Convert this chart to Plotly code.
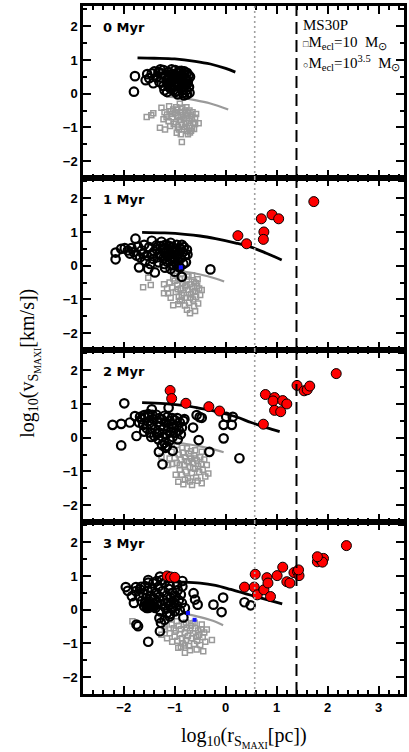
import plotly.graph_objects as go
from plotly.subplots import make_subplots

# ---------------- data ----------------
panel_labels = ["0 Myr", "1 Myr", "2 Myr", "3 Myr"]

# black open circles (Mecl = 10^3.5 Msun)
circ_0 = [(-1.80,0.06),(-1.78,0.52),(-1.57,0.40),(-1.54,0.58),(-1.45,0.60),(-1.42,0.31),(-1.50,0.46),(-1.32,0.64),(-1.36,0.48),(-1.26,0.47),(-1.22,0.23),(-1.30,0.35),(-1.22,0.70),(-1.18,0.55),(-1.16,0.40),(-1.14,0.28),(-1.12,0.64),(-1.10,0.50),(-1.08,0.15),(-1.06,0.72),(-1.05,0.36),(-1.03,0.58),(-1.00,0.25),(-0.99,0.70),(-0.97,0.45),(-0.95,0.08),(-0.94,0.62),(-0.92,0.32),(-0.90,0.52),(-0.88,0.18),(-0.87,0.68),(-0.85,0.40),(-0.84,0.02),(-0.82,0.58),(-0.80,0.27),(-0.79,0.48),(-0.77,0.10),(-0.76,0.62),(-0.74,0.38),(-0.72,0.20),(-0.71,0.03),(-0.70,0.50),(-1.20,0.10),(-1.15,0.05),(-1.13,0.44),(-1.09,0.33),(-1.07,0.58),(-1.02,0.12),(-0.98,0.53),(-0.93,0.22),(-0.91,0.67),(-0.89,0.42),(-0.86,0.30),(-0.83,0.12),(-0.81,0.66),(-0.78,0.40),(-0.75,0.30),(-0.73,0.55),(-1.25,0.60),(-1.04,0.47),(-0.96,0.35),(-0.86,0.55),(-0.82,-0.05),(-0.76,-0.02),(-1.11,0.22),(-0.99,0.05),(-0.94,-0.02),(-1.28,0.72),(-1.40,0.66)]
circ_1 = [(-2.16,0.19),(-2.16,0.39),(-2.05,0.50),(-1.98,0.52),(-1.92,0.45),(-1.85,0.52),(-1.77,0.80),(-1.72,0.56),(-1.88,0.36),(-1.80,0.40),(-1.65,0.45),(-1.60,0.62),(-1.55,0.30),(-1.50,0.55),(-1.45,0.74),(-1.42,0.20),(-1.40,0.42),(-1.36,0.60),(-1.32,0.10),(-1.30,0.35),(-1.26,0.71),(-1.24,0.50),(-1.22,0.22),(-1.20,0.05),(-1.18,0.40),(-1.16,0.62),(-1.14,0.28),(-1.12,0.48),(-1.10,0.15),(-1.08,0.68),(-1.06,0.35),(-1.04,0.55),(-1.02,0.02),(-1.00,0.25),(-0.98,0.45),(-0.96,0.62),(-0.94,0.12),(-0.92,0.35),(-0.90,0.52),(-0.88,0.22),(-0.86,0.62),(-0.84,0.40),(-0.83,0.05),(-0.80,0.30),(-0.78,0.10),(-0.76,0.47),(-0.75,0.33),(-1.70,-0.05),(-1.52,-0.10),(-1.39,-0.20),(-1.19,-0.06),(-1.00,-0.18),(-0.86,-0.33),(-0.30,-0.11),(-1.58,0.15),(-1.48,0.05),(-1.35,0.48),(-1.28,0.58),(-1.15,0.12),(-1.10,0.58),(-1.05,0.20),(-0.97,0.05),(-0.92,-0.02),(-1.62,0.35),(-1.44,0.35),(-1.34,0.25),(-1.26,0.30),(-1.21,0.60),(-1.12,0.32),(-1.02,0.42),(-0.95,0.30),(-0.88,0.48),(-1.68,0.25),(-1.75,0.30),(-0.82,0.55),(-1.08,-0.10),(-0.90,-0.05)]
circ_2 = [(-2.05,0.41),(-1.88,0.45),(-1.78,0.64),(-1.60,0.67),(-1.75,0.05),(-1.45,0.84),(-1.12,0.89),(-1.05,0.58),(-0.83,0.50),(-0.57,0.67),(-0.51,0.61),(-0.64,0.30),(-0.53,-0.07),(-0.32,-0.42),(-0.04,0.38),(-0.04,-0.02),(0.01,0.62),(0.12,0.38),(0.14,0.62),(0.27,-0.61),(-1.24,-0.79),(-1.04,-0.39),(-1.31,-0.42),(-2.05,-0.23),(-2.22,0.38),(-1.99,1.02),(-0.81,0.55),(-0.47,0.59),
          (-1.70,0.45),(-1.65,0.55),(-1.62,0.38),(-1.58,0.60),(-1.55,0.28),(-1.52,0.48),(-1.50,0.65),(-1.48,0.15),(-1.45,0.38),(-1.42,0.55),(-1.40,0.05),(-1.38,0.25),(-1.36,0.68),(-1.34,0.45),(-1.32,-0.05),(-1.30,0.15),(-1.28,0.35),(-1.26,0.55),(-1.24,0.02),(-1.22,0.25),(-1.20,-0.15),(-1.18,0.45),(-1.16,0.10),(-1.14,0.62),(-1.12,0.30),(-1.10,-0.08),(-1.08,0.18),(-1.06,0.40),(-1.04,0.02),(-1.02,0.30),(-1.00,0.52),(-0.98,0.15),(-0.96,0.35),(-0.94,-0.05),(-0.92,0.22),(-0.90,0.45),(-0.88,0.10),(-0.86,0.30),(-1.60,0.18),(-1.46,0.02),(-1.35,0.12),(-1.25,-0.22),(-1.15,-0.25),(-1.18,-0.30),(-1.30,0.58),(-1.20,0.65),(-1.44,0.68),(-1.68,0.62),(-1.52,0.70),(-1.10,0.50),(-0.95,0.58)]
circ_3 = [(-1.96,0.67),(-1.92,0.56),(-1.76,0.67),(-1.66,0.68),(-1.52,0.88),(-1.52,0.80),(-1.29,0.98),(-1.80,0.20),(-1.75,-0.44),(-1.72,-0.49),(-1.52,-0.95),(-1.29,-0.64),(-1.27,-0.39),(-1.09,-0.13),(-1.08,0.16),(-0.83,-0.23),(-0.80,0.05),(-0.85,0.69),(-0.63,0.49),(-0.60,0.30),(-0.55,0.15),(-0.24,0.15),(-0.05,0.36),(-0.08,-0.07),(0.37,0.22),(0.49,0.13),
          (-1.70,0.40),(-1.68,0.60),(-1.65,0.25),(-1.62,0.48),(-1.60,0.10),(-1.58,0.70),(-1.56,0.35),(-1.55,0.05),(-1.53,0.55),(-1.52,0.15),(-1.50,0.25),(-1.48,0.08),(-1.47,0.42),(-1.45,0.62),(-1.43,0.18),(-1.42,0.78),(-1.40,0.32),(-1.38,0.05),(-1.36,0.50),(-1.34,0.22),(-1.32,0.68),(-1.30,0.38),(-1.28,-0.05),(-1.26,0.15),(-1.24,0.55),(-1.22,0.28),(-1.20,0.80),(-1.18,0.05),(-1.16,0.42),(-1.14,0.20),(-1.12,0.62),(-1.10,-0.20),(-1.08,0.35),(-1.06,0.05),(-1.04,0.50),(-1.02,0.22),(-1.00,-0.05),(-0.98,0.40),(-0.96,0.12),(-0.94,0.58),(-0.92,0.28),(-0.90,-0.02),(-0.88,0.45),(-0.86,0.20),(-1.55,0.12),(-1.50,0.12),(-1.45,0.08),(-1.52,0.05),(-1.47,0.15),(-1.58,0.20),(-1.40,0.10),(-1.30,-0.25),(-1.20,-0.30),(-1.15,-0.10),(-0.95,0.75),(-1.10,0.72),(-0.85,0.85),(-1.35,0.85),(-1.25,0.88),(-1.84,0.40),(-1.76,0.55)]

# grey open squares (Mecl = 10 Msun)
sq_0 = [(-1.55,-0.69),(-1.46,-0.64),(-1.42,-0.58),(-1.26,-0.42),(-1.11,-0.37),(-0.90,-0.30),(-1.03,-0.47),(-1.22,-0.76),(-1.29,-1.01),(-1.19,-1.06),(-1.09,-0.96),(-0.86,-1.43),(-0.96,-1.16),(-0.92,-1.06),(-0.76,-1.11),(-0.66,-1.01),(-0.53,-0.88),(-0.60,-0.71),(-1.20,-0.55),(-1.15,-0.62),(-1.08,-0.52),(-1.05,-0.70),(-1.00,-0.58),(-0.98,-0.85),(-0.95,-0.48),(-0.93,-0.66),(-0.90,-0.78),(-0.88,-0.55),(-0.86,-0.92),(-0.84,-0.63),(-0.82,-0.75),(-0.80,-0.50),(-0.78,-0.88),(-0.76,-0.68),(-0.74,-0.58),(-0.72,-0.80),(-0.70,-0.95),(-0.68,-0.65),(-0.66,-0.75),(-0.64,-0.86),(-0.62,-1.05),(-0.70,-1.15),(-0.82,-1.05),(-0.88,-1.20),(-1.02,-0.90),(-1.12,-0.82),(-1.16,-0.70),(-0.97,-0.40),(-0.85,-0.42),(-0.77,-0.40),(-0.60,-0.90),(-0.58,-0.60),(-0.80,-0.98),(-0.94,-0.98),(-0.68,-1.10),(-0.74,-1.20),(-0.87,-0.70),(-0.79,-0.62),(-0.71,-0.50),(-0.65,-0.55),(-1.06,-0.60)]
sq_1 = [(-1.52,-0.36),(-1.47,-0.57),(-1.62,-0.64),(-1.21,-0.55),(-1.21,-0.82),(-1.13,-0.82),(-1.03,-1.17),(-0.93,-1.14),(-0.76,-1.31),(-0.70,-1.41),(-0.60,-1.34),(-0.50,-0.87),(-0.47,-0.72),(-0.66,-0.28),(-0.86,-0.23),(-1.03,-0.38),(-1.10,-0.50),(-1.05,-0.65),(-1.00,-0.45),(-0.98,-0.78),(-0.95,-0.58),(-0.92,-0.92),(-0.90,-0.40),(-0.88,-0.68),(-0.86,-1.02),(-0.84,-0.52),(-0.82,-0.82),(-0.80,-0.62),(-0.78,-0.95),(-0.76,-0.42),(-0.74,-0.72),(-0.72,-1.10),(-0.70,-0.55),(-0.68,-0.85),(-0.66,-0.65),(-0.64,-1.00),(-0.62,-0.48),(-0.60,-0.75),(-0.58,-0.92),(-0.56,-0.60),(-0.54,-1.12),(-0.52,-0.68),(-0.55,-0.40),(-0.62,-1.20),(-0.80,-1.18),(-0.90,-1.05),(-1.08,-0.95),(-0.96,-0.30),(-0.73,-0.32),(-0.58,-0.52),(-0.86,-0.88),(-0.70,-0.95),(-0.64,-0.78),(-0.77,-0.58),(-0.94,-0.70),(-1.15,-0.68)]
sq_2 = [(-0.96,-0.22),(-1.06,-0.42),(-1.26,-0.56),(-1.13,-0.81),(-0.93,-1.31),(-0.83,-1.38),(-0.66,-1.40),(-0.47,-1.35),(-0.34,-1.06),(-0.37,-0.81),(-0.47,-0.42),(-0.60,-0.37),(-0.76,-0.31),(-1.00,-0.60),(-0.96,-0.75),(-0.92,-0.50),(-0.90,-0.95),(-0.88,-0.65),(-0.86,-1.10),(-0.84,-0.45),(-0.82,-0.80),(-0.80,-0.58),(-0.78,-1.00),(-0.76,-0.70),(-0.74,-1.20),(-0.72,-0.48),(-0.70,-0.88),(-0.68,-0.62),(-0.66,-1.05),(-0.64,-0.75),(-0.62,-0.52),(-0.60,-0.92),(-0.58,-1.18),(-0.56,-0.68),(-0.54,-0.85),(-0.52,-1.02),(-0.50,-0.58),(-0.48,-0.78),(-0.45,-0.95),(-0.42,-0.65),(-0.40,-1.15),(-1.05,-0.78),(-1.10,-0.62),(-0.98,-1.10),(-0.70,-1.30),(-0.55,-1.28),(-0.85,-0.30),(-0.68,-0.40),(-0.80,-1.25),(-0.64,-0.90),(-0.72,-0.70),(-0.90,-0.82),(-0.60,-0.62)]
sq_3 = [(-1.83,-0.34),(-1.26,-0.74),(-1.19,-0.59),(-1.06,-0.44),(-0.96,-0.34),(-0.93,-1.13),(-0.80,-1.28),(-0.80,-1.06),(-0.57,-1.18),(-0.44,-1.23),(-0.27,-0.90),(-0.37,-0.59),(-0.47,-0.44),(-0.61,-0.39),(-1.10,-0.70),(-1.02,-0.55),(-1.00,-0.80),(-0.98,-0.62),(-0.95,-0.92),(-0.92,-0.48),(-0.90,-0.72),(-0.88,-0.58),(-0.86,-0.85),(-0.84,-1.00),(-0.82,-0.45),(-0.80,-0.68),(-0.78,-0.90),(-0.76,-0.55),(-0.74,-0.78),(-0.72,-1.08),(-0.70,-0.62),(-0.68,-0.48),(-0.66,-0.85),(-0.64,-0.70),(-0.62,-1.02),(-0.60,-0.55),(-0.58,-0.80),(-0.56,-0.92),(-0.54,-0.62),(-0.52,-0.75),(-0.50,-1.05),(-0.48,-0.58),(-0.45,-0.82),(-0.42,-0.68),(-0.40,-0.95),(-1.15,-0.85),(-1.05,-0.95),(-0.70,-1.20),(-0.88,-1.10),(-0.65,-0.40),(-0.78,-0.38),(-1.20,-0.50)]

# red filled circles (ejected O stars)
red_0 = []
red_1 = [(0.24,0.89),(0.41,0.65),(0.70,1.39),(0.91,1.51),(1.04,1.39),(0.75,1.00),(0.74,0.78),(1.73,1.90)]
red_2 = [(-1.09,1.40),(-1.06,1.16),(-0.78,1.02),(-0.33,0.92),(-0.12,0.79),(0.78,1.28),(0.96,1.19),(0.93,1.09),(1.12,1.10),(1.20,1.00),(0.96,0.81),(1.08,0.77),(0.74,0.40),(1.40,1.55),(1.54,1.39),(1.60,1.42),(1.65,1.53),(2.17,1.90)]
red_3 = [(-1.15,1.00),(-1.08,0.97),(-1.00,0.96),(0.37,0.67),(0.56,0.67),(0.58,1.05),(0.62,0.44),(0.75,0.59),(0.81,0.95),(0.83,0.79),(0.88,0.39),(1.01,1.01),(1.12,1.26),(1.20,0.83),(1.26,0.79),(1.34,1.10),(1.41,1.13),(1.44,1.01),(1.43,1.18),(1.80,1.42),(1.85,1.50),(1.92,1.52),(1.90,1.41),(1.80,1.57),(2.37,1.90)]

# small blue squares
blue_0 = []
blue_1 = [(-0.88,-0.05)]
blue_2 = []
blue_3 = [(-0.74,-0.10),(-0.61,-0.30)]

# median curves
bline_x = [[-1.73,-1.4,-1.0,-0.6,-0.3,0.0,0.19],
           [-1.64,-1.2,-0.8,-0.5,-0.2,0.2,0.5,0.8,1.10],
           [-1.64,-1.2,-0.8,-0.5,-0.2,0.2,0.5,0.8,1.06],
           [-1.22,-0.9,-0.5,-0.2,0.1,0.4,0.7,1.11]]
bline_y = [[1.06,1.05,1.03,0.96,0.88,0.75,0.64],
           [0.99,0.97,0.93,0.88,0.80,0.67,0.55,0.37,0.17],
           [1.04,1.01,0.95,0.87,0.78,0.62,0.45,0.30,0.18],
           [0.83,0.82,0.79,0.72,0.60,0.47,0.34,0.17]]
gline_x = [[-1.17,-0.9,-0.6,-0.3,0.05],
           [-1.09,-0.8,-0.5,-0.2,-0.03],
           [-1.09,-0.8,-0.5,-0.2,-0.04],
           [-0.74,-0.5,-0.25,-0.05]]
gline_y = [[-0.09,-0.12,-0.19,-0.29,-0.47],
           [-0.13,-0.18,-0.26,-0.38,-0.47],
           [-0.12,-0.18,-0.26,-0.36,-0.43],
           [-0.14,-0.22,-0.33,-0.46]]

dotted_x = 0.57
dashed_x = 1.39
x_ticks = [-2, -1, 0, 1, 2, 3]
y_ticks = [-2, -1, 0, 1, 2]

circs = [circ_0, circ_1, circ_2, circ_3]
sqs = [sq_0, sq_1, sq_2, sq_3]
reds = [red_0, red_1, red_2, red_3]
blues = [blue_0, blue_1, blue_2, blue_3]

# ---------------- figure ----------------
fig = make_subplots(rows=4, cols=1, shared_xaxes=True, vertical_spacing=0)

GREY = "#9a9a9a"
for i in range(4):
    r = i + 1
    sq = sqs[i]
    fig.add_trace(go.Scatter(x=[p[0] for p in sq], y=[p[1] for p in sq], mode="markers",
                             marker=dict(symbol="square-open", size=5, color=GREY, line=dict(width=1.5, color=GREY))),
                  row=r, col=1)
    fig.add_trace(go.Scatter(x=gline_x[i], y=gline_y[i], mode="lines",
                             line=dict(color=GREY, width=2.2, shape="spline")), row=r, col=1)
    c = circs[i]
    fig.add_trace(go.Scatter(x=[p[0] for p in c], y=[p[1] for p in c], mode="markers",
                             marker=dict(symbol="circle-open", size=8.5, color="black", line=dict(width=2.2, color="black"))),
                  row=r, col=1)
    fig.add_trace(go.Scatter(x=bline_x[i], y=bline_y[i], mode="lines",
                             line=dict(color="black", width=2.8, shape="spline")), row=r, col=1)
    b = blues[i]
    if b:
        fig.add_trace(go.Scatter(x=[p[0] for p in b], y=[p[1] for p in b], mode="markers",
                                 marker=dict(symbol="square", size=4, color="#1010ff")), row=r, col=1)
    rd = reds[i]
    if rd:
        fig.add_trace(go.Scatter(x=[p[0] for p in rd], y=[p[1] for p in rd], mode="markers",
                                 marker=dict(symbol="circle", size=10, color="#ff0000", line=dict(width=1, color="black"))),
                      row=r, col=1)
    fig.add_vline(x=dotted_x, line=dict(color="#a0a0a0", width=1.6, dash="2px,3px"), row=r, col=1)
    fig.add_vline(x=dashed_x, line=dict(color="black", width=2, dash="12px,6px"), row=r, col=1)
    xa = "x" if r == 1 else f"x{r}"
    ya = "y" if r == 1 else f"y{r}"
    fig.add_annotation(x=-2.45, y=1.97, xref=xa, yref=ya, text=panel_labels[i], showarrow=False,
                       xanchor="left", yanchor="middle",
                       font=dict(family="DejaVu Sans", size=13, color="black", weight="bold"))

tickfont = dict(family="Liberation Sans", size=13, color="black", weight="bold")
for r in range(1, 5):
    fig.update_xaxes(range=[-2.8, 3.5], tickvals=x_ticks, ticks="inside", ticklen=8, tickwidth=2,
                     tickcolor="black", showline=True, linewidth=2.5, linecolor="black", mirror="allticks",
                     showgrid=False, zeroline=False, tickfont=tickfont, automargin=False,
                     minor=dict(dtick=0.2, tick0=0, ticks="inside", ticklen=4, tickwidth=1.5, tickcolor="black", showgrid=False),
                     row=r, col=1)
    fig.update_yaxes(range=[-2.5, 2.6], tickvals=y_ticks, ticks="inside", ticklen=8, tickwidth=2,
                     tickcolor="black", showline=True, linewidth=2.5, linecolor="black", mirror="allticks",
                     showgrid=False, zeroline=False, tickfont=tickfont, automargin=False,
                     minor=dict(dtick=0.5, tick0=0, ticks="inside", ticklen=4, tickwidth=1.5, tickcolor="black", showgrid=False),
                     row=r, col=1)

# legend text in the top panel
serif = "Liberation Serif"
fig.add_annotation(x=1.47, y=2.04, xref="x", yref="y", text="MS30P", showarrow=False, xanchor="left",
                   font=dict(family=serif, size=15, color="black"))
fig.add_annotation(x=1.47, y=1.51, xref="x", yref="y",
                   text="<span style='font-size:9px'>□</span>M<sub>ecl</sub>=10  M<sub>⊙</sub>",
                   showarrow=False, xanchor="left", font=dict(family=serif, size=15, color="black"))
fig.add_annotation(x=1.47, y=0.92, xref="x", yref="y",
                   text="<span style='font-size:9px'>○</span>M<sub>ecl</sub>=10<sup>3.5</sup>  M<sub>⊙</sub>",
                   showarrow=False, xanchor="left", font=dict(family=serif, size=15, color="black"))

# axis titles
fig.add_annotation(x=0.503, y=-0.0625, xref="paper", yref="paper", xanchor="center", yanchor="middle",
                   text="log<sub>10</sub>(r<sub>S<sub>MAXI</sub></sub>[pc])", showarrow=False,
                   font=dict(family=serif, size=20, color="black"))
fig.add_annotation(x=-0.165, y=0.48, xref="paper", yref="paper", xanchor="center", yanchor="middle",
                   textangle=-90,
                   text="log<sub>10</sub>(v<sub>S<sub>MAXI</sub></sub>[km/s])", showarrow=False,
                   font=dict(family=serif, size=20, color="black"))

fig.update_layout(width=409, height=752, margin=dict(l=83, r=5, t=6, b=58, autoexpand=False),
                  showlegend=False, plot_bgcolor="white", paper_bgcolor="white")

fig.write_html("out.html", config={"displayModeBar": False},
               post_script="document.body.style.margin='0px';document.body.style.padding='0px';")
